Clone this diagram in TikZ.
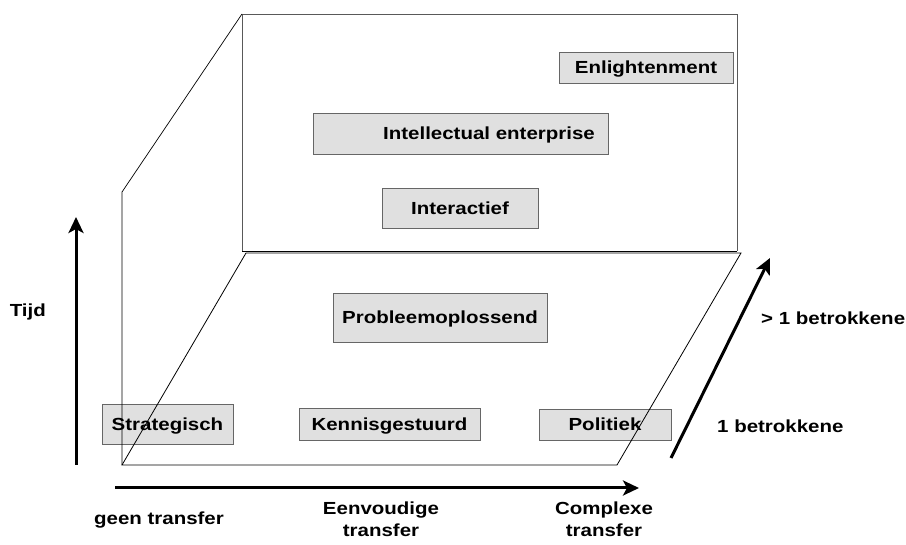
\documentclass[tikz,border=0pt]{standalone}
\usepackage{fontspec}
\setmainfont{Liberation Sans}[FakeStretch=1.17]
\usetikzlibrary{arrows.meta}
\tikzset{
  vak/.style={draw=black!60,fill=black!12,line width=0.8,font=\fontsize{17.5}{22}\selectfont\bfseries,inner sep=0pt,text height=12.5pt,text depth=0pt},
  lbl/.style={font=\fontsize{17.5}{22}\selectfont\bfseries,align=center,inner sep=0pt},
  as/.style={line width=3,-{Stealth[length=16,width=15,inset=4]}},
}
\begin{document}
\begin{tikzpicture}[x=1pt,y=-1pt]
				\useasboundingbox (0,0) rectangle (906,545);
				\coordinate (A) at (242,14);
				\coordinate (B) at (737,14);
				\coordinate (C) at (737,251.5);
				\coordinate (D) at (242,251.5);
				\coordinate (L) at (122,192);
				\coordinate (F1) at (246,253);
				\coordinate (F2) at (741,253);
				\coordinate (F3) at (617,465);
				\coordinate (F4) at (122,465);
				% vakjes
				\node[vak,minimum width=174,minimum height=31] (enl) at (646,67.5) {Enlightenment};
				\node[vak,minimum width=295,minimum height=41] (int) at (460.5,133.5) {\hspace{57pt}Intellectual enterprise};
				\node[vak,minimum width=156,minimum height=40] (inter) at (460,208) {Interactief};
				\node[vak,minimum width=214,minimum height=49] (prob) at (440,317.5) {Probleemoplossend};
				\node[vak,minimum width=131,minimum height=40] (strat) at (167.5,424) {Strategisch};
				\node[vak,minimum width=181,minimum height=32] (kenn) at (389.5,424) {Kennisgestuurd};
				\node[vak,minimum width=132,minimum height=31] (pol) at (605,424.5) {Politiek};
				% wanden
				\draw[black!65,line width=0.9] (D) -- (A) -- (B) -- (C);
				\draw[line width=0.7] (A) to (L) to (F4);
				\draw[line width=1.4] (D) to (C);
				\draw[line width=0.8] (F1) -- (F2) -- (F3) -- (F4) -- cycle;
				% assen
				\coordinate (T0) at (76,465);
				\coordinate (T1) at (76,217);
				\coordinate (H0) at (115,488);
				\coordinate (H1) at (639,488);
				\coordinate (S0) at (671,458);
				\coordinate (S1) at (770,258);
				\draw[as] (T0) to (T1);
				\draw[as] (H0) to (H1);
				\draw[as] (S0) to (S1);
				\node[lbl,anchor=east,text height=12.5pt,text depth=0pt] (tijd) at (46,310) {Tijd};
				\node[lbl,anchor=west,text height=12.5pt,text depth=0pt] (meer) at (761,318) {> 1 betrokkene};
				\node[lbl,anchor=west,text height=12.5pt,text depth=0pt] (een) at (717,426) {1 betrokkene};
				\node[lbl,text height=12.5pt,text depth=0pt] (geen) at (159,518) {geen transfer};
				\node[lbl] (eenv) at (381,519) {Eenvoudige\\transfer};
				\node[lbl] (compl) at (604,519) {Complexe\\transfer};
			\end{tikzpicture}
\end{document}
